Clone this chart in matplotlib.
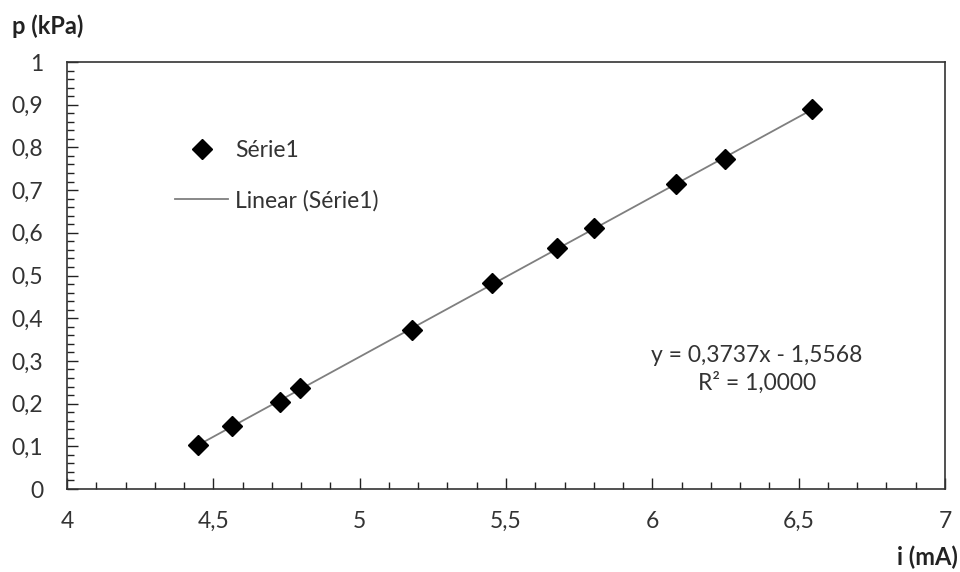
import numpy as np
import matplotlib
matplotlib.use('Agg')
import matplotlib.pyplot as plt
from matplotlib.ticker import MultipleLocator, FuncFormatter

# data
i_mA = [4.448, 4.564, 4.728, 4.796, 5.179, 5.452, 5.674, 5.800, 6.081, 6.248, 6.545]
p_kPa = [0.103, 0.148, 0.204, 0.236, 0.372, 0.482, 0.564, 0.611, 0.714, 0.773, 0.890]
series_name = 'Série1'
trend_name = 'Linear (Série1)'
eq_text = 'y = 0,3737x - 1,5568\nR² = 1,0000'

plt.rcParams['font.family'] = ['Lato', 'DejaVu Sans']
plt.rcParams['font.size'] = 16

fig = plt.figure(figsize=(9.6, 5.72), dpi=100)
ax = fig.add_axes([0.0698, 0.1451, 0.9146, 0.7465])

# linear trendline
a, b = np.polyfit(i_mA, p_kPa, 1)
xs = np.array([min(i_mA), max(i_mA)])
ax.plot(xs, a * xs + b, color='#7f7f7f', lw=1.3, label=trend_name, zorder=2)
ax.plot(i_mA, p_kPa, linestyle='none', marker='D', ms=10.5, color='black',
        label=series_name, zorder=3)

ax.set_xlim(4, 7)
ax.set_ylim(0, 1)
ax.xaxis.set_major_locator(MultipleLocator(0.5))
ax.xaxis.set_minor_locator(MultipleLocator(0.1))
ax.yaxis.set_major_locator(MultipleLocator(0.1))
ax.yaxis.set_minor_locator(MultipleLocator(0.02))

def comma(v, pos):
    s = f'{v:.1f}'.rstrip('0').rstrip('.')
    return s.replace('.', ',')

ax.xaxis.set_major_formatter(FuncFormatter(comma))
ax.yaxis.set_major_formatter(FuncFormatter(comma))
ax.tick_params(which='both', direction='in', top=False, right=False, colors='#222222',
               labelsize=16.5, labelcolor='#333333')
ax.tick_params(which='major', length=8, width=1)
ax.tick_params(which='minor', length=5, width=1)
ax.tick_params(axis='x', pad=16)
ax.tick_params(axis='y', pad=17)
for s in ax.spines.values():
    s.set_color('#333333')
    s.set_linewidth(1.2)

fig.text(0.012, 0.955, 'p (kPa)', fontsize=17, fontweight='bold', color='#222222', va='center')
fig.text(0.998, 0.026, 'i (mA)', fontsize=17, fontweight='bold', color='#222222',
         ha='right', va='center')

ax.text(0.786, 0.28, eq_text, transform=ax.transAxes, ha='center', va='center',
        fontsize=16.5, color='#333333', linespacing=1.3)

h, l = ax.get_legend_handles_labels()
ax.legend(h[::-1], l[::-1], loc='upper left', bbox_to_anchor=(0.1, 0.865), frameon=False,
          handlelength=2.3, labelspacing=1.25, fontsize=16.5, handletextpad=0.3,
          labelcolor='#333333')

fig.savefig('out.png', dpi=100)
